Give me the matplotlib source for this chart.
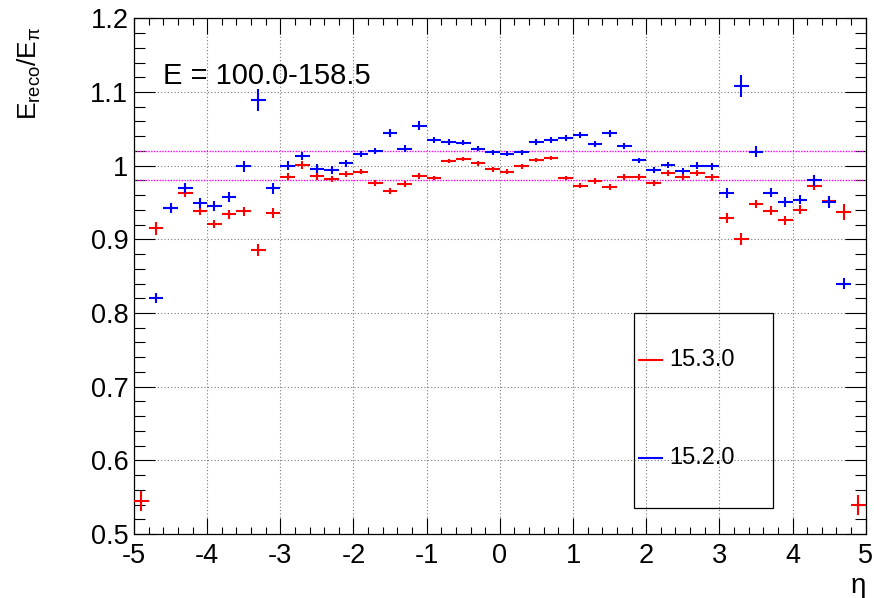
"""
E_reco / E_pi em função de eta, para duas versões (15.3.0 e 15.2.0).
Gera out.png no estilo dos gráficos do ROOT.
"""

import numpy as np
import matplotlib
matplotlib.use("Agg")
import matplotlib.pyplot as plt
from matplotlib.ticker import MultipleLocator, FuncFormatter
from matplotlib.patches import Rectangle

plt.rcParams["font.family"] = ["Liberation Sans", "DejaVu Sans"]
plt.rcParams["mathtext.fontset"] = "custom"
plt.rcParams["mathtext.rm"] = "Liberation Sans"
plt.rcParams["mathtext.it"] = "Liberation Sans:italic"
plt.rcParams["axes.unicode_minus"] = False

# centros dos bins em eta (largura 0.2)
eta = [-4.9, -4.7, -4.5, -4.3, -4.1, -3.9, -3.7, -3.5, -3.3, -3.1,
       -2.9, -2.7, -2.5, -2.3, -2.1, -1.9, -1.7, -1.5, -1.3, -1.1,
       -0.9, -0.7, -0.5, -0.3, -0.1, 0.1, 0.3, 0.5, 0.7, 0.9,
       1.1, 1.3, 1.5, 1.7, 1.9, 2.1, 2.3, 2.5, 2.7, 2.9,
       3.1, 3.3, 3.5, 3.7, 3.9, 4.1, 4.3, 4.5, 4.7, 4.9]
meia_largura = 0.1

# versão 15.3.0 (vermelho)
resp_1530 = [0.545, 0.915, 0.943, 0.963, 0.938, 0.921, 0.934, 0.938, 0.886, 0.936,
             0.985, 1.001, 0.986, 0.982, 0.989, 0.992, 0.976, 0.966, 0.975, 0.986,
             0.983, 1.006, 1.009, 1.003, 0.995, 0.992, 0.999, 1.008, 1.010, 0.983,
             0.973, 0.979, 0.971, 0.985, 0.984, 0.977, 0.990, 0.984, 0.990, 0.984,
             0.929, 0.900, 0.948, 0.939, 0.926, 0.940, 0.972, 0.952, 0.937, 0.539]
erro_1530 = [0.014, 0.009, 0.006, 0.005, 0.0056, 0.0056, 0.006, 0.006, 0.008, 0.0065,
             0.005, 0.005, 0.005, 0.004, 0.004, 0.004, 0.004, 0.004, 0.004, 0.0035,
             0.003, 0.003, 0.003, 0.003, 0.003, 0.003, 0.003, 0.003, 0.003, 0.003,
             0.0035, 0.004, 0.004, 0.004, 0.004, 0.004, 0.004, 0.004, 0.004, 0.005,
             0.0068, 0.008, 0.0056, 0.006, 0.0063, 0.006, 0.005, 0.0068, 0.011, 0.0135]

# versão 15.2.0 (azul) — bins extremos vazios
resp_1520 = [np.nan, 0.820, 0.943, 0.970, 0.949, 0.945, 0.957, 0.999, 1.089, 0.969,
             1.000, 1.013, 0.996, 0.994, 1.003, 1.016, 1.020, 1.044, 1.023, 1.054,
             1.035, 1.032, 1.031, 1.023, 1.018, 1.016, 1.018, 1.032, 1.035, 1.038,
             1.042, 1.029, 1.044, 1.027, 1.007, 0.994, 1.001, 0.993, 1.000, 0.999,
             0.963, 1.108, 1.019, 0.963, 0.950, 0.954, 0.980, 0.951, 0.840, np.nan]
erro_1520 = [np.nan, 0.007, 0.0068, 0.0066, 0.0068, 0.0066, 0.0068, 0.007, 0.0147, 0.007,
             0.006, 0.0056, 0.0056, 0.005, 0.005, 0.004, 0.004, 0.0056, 0.005, 0.006,
             0.004, 0.0035, 0.0035, 0.0035, 0.0035, 0.0035, 0.0035, 0.0035, 0.004, 0.004,
             0.004, 0.004, 0.005, 0.004, 0.004, 0.004, 0.004, 0.004, 0.005, 0.005,
             0.0068, 0.015, 0.007, 0.006, 0.0068, 0.0065, 0.007, 0.0083, 0.0075, np.nan]

faixa_energia = "E = 100.0-158.5"
banda = (0.98, 1.02)

fig = plt.figure(figsize=(8.74, 5.98), dpi=100)
ax = fig.add_axes([0.1533, 0.1070, 0.8372, 0.8624])

ax.set_xlim(-5, 5)
ax.set_ylim(0.5, 1.2)

ax.grid(True, which="major", color="#777777", linestyle=(0, (1, 2)), linewidth=0.8)
ax.set_axisbelow(True)

for y in banda:
    ax.axhline(y, color="#ff00ff", linestyle=(0, (1, 1)), linewidth=1.0, zorder=1)

ax.errorbar(eta, resp_1530, xerr=meia_largura, yerr=erro_1530, fmt="none",
            ecolor="#ff0000", elinewidth=1.5, capsize=0, zorder=3)
ax.errorbar(eta, resp_1520, xerr=meia_largura, yerr=erro_1520, fmt="none",
            ecolor="#0000ff", elinewidth=1.5, capsize=0, zorder=4)

# eixos estilo ROOT
ax.xaxis.set_major_locator(MultipleLocator(1))
ax.xaxis.set_minor_locator(MultipleLocator(0.2))
ax.yaxis.set_major_locator(MultipleLocator(0.1))
ax.yaxis.set_minor_locator(MultipleLocator(0.02))
ax.yaxis.set_major_formatter(FuncFormatter(lambda v, p: f"{v:g}"))
ax.xaxis.set_major_formatter(FuncFormatter(lambda v, p: f"{v:g}"))

ax.tick_params(axis="both", which="both", direction="in", top=True, right=True,
               width=0.8, labelsize=19.5)
ax.tick_params(axis="x", which="major", length=11.3, pad=6.5)
ax.tick_params(axis="x", which="minor", length=5.3)
ax.tick_params(axis="y", which="major", length=15, pad=4)
ax.tick_params(axis="y", which="minor", length=8)
for s in ax.spines.values():
    s.set_linewidth(0.9)

ax.set_ylabel(r"E$_{\mathrm{reco}}$/E$_{\mathrm{π}}$", fontsize=19, loc="top")
ax.yaxis.set_label_coords(-0.124, 0.985)
ax.set_xlabel("η", fontsize=20, loc="right")
ax.xaxis.set_label_coords(1.0, -0.075)

ax.text(0.0396, 0.872, faixa_energia, transform=ax.transAxes, fontsize=21,
        va="baseline", ha="left")

# legenda desenhada à mão (caixa transparente, como no ROOT)
ax.add_patch(Rectangle((0.683, 0.050), 0.190, 0.378, transform=ax.transAxes,
                       fill=False, edgecolor="black", linewidth=0.9, zorder=5))
for y, cor, nome in [(0.338, "#ff0000", "15.3.0"), (0.148, "#0000ff", "15.2.0")]:
    ax.plot([0.690, 0.722], [y, y], color=cor, linewidth=1.5,
            transform=ax.transAxes, zorder=6)
    ax.text(0.731, y, nome, transform=ax.transAxes, fontsize=17,
            va="center", ha="left", zorder=6)

fig.savefig("out.png", dpi=100)
